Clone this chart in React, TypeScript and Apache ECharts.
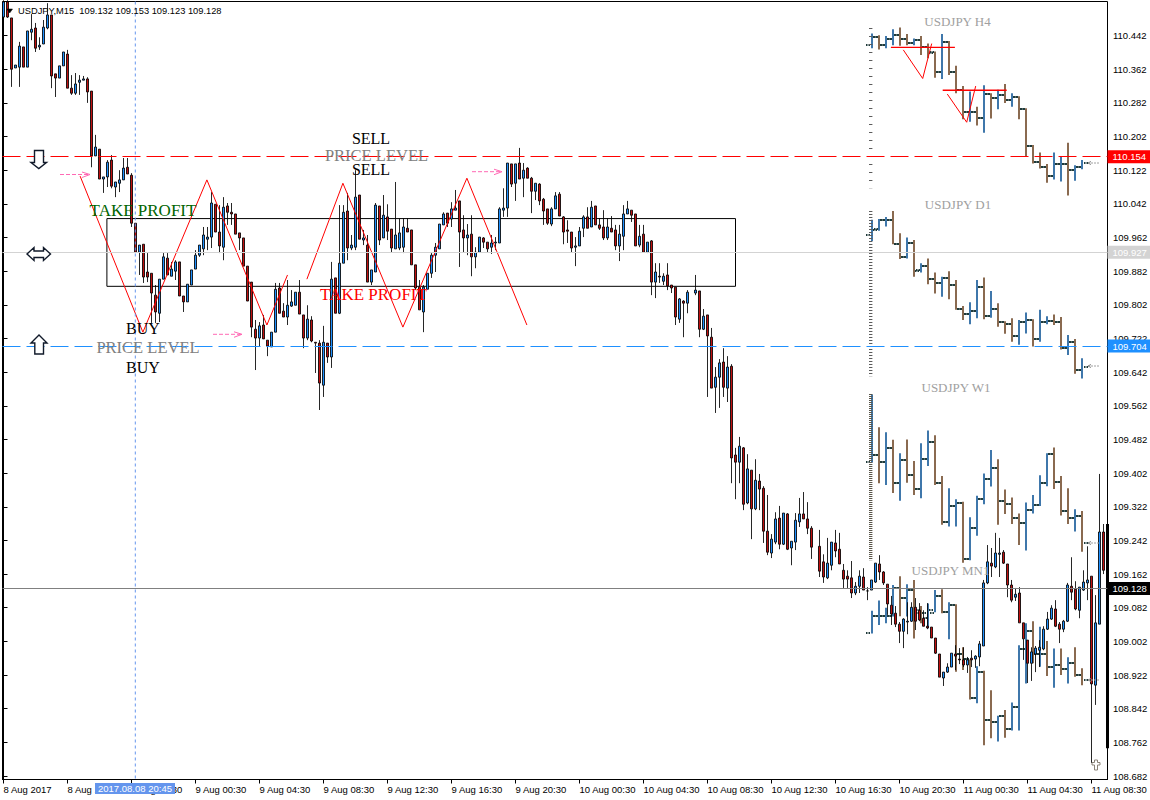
import React, { useEffect, useRef } from "react";
import * as echarts from "echarts";

// Rows are [open, high, low, close]; null marks a slot with no visible bar.
type Row = [number, number, number, number] | null;

const barsA: Row[] = [
[110.486,110.526,110.484,110.522],[110.522,110.526,110.484,110.486],[110.484,110.484,110.320,110.362],[110.365,110.372,110.365,110.372],
[110.367,110.427,110.320,110.417],[110.415,110.415,110.367,110.367],[110.367,110.453,110.367,110.453],[110.450,110.493,110.431,110.457],
[110.460,110.472,110.403,110.412],[110.415,110.438,110.408,110.419],[110.422,110.479,110.422,110.462],[110.460,110.519,110.457,110.491],
[110.491,110.491,110.317,110.346],[110.351,110.351,110.296,110.341],[110.341,110.370,110.341,110.370],[110.370,110.403,110.370,110.403],
[110.398,110.408,110.317,110.317],[110.317,110.348,110.301,110.305],[110.305,110.353,110.301,110.327],[110.331,110.348,110.301,110.336],
[110.336,110.346,110.336,110.339],[110.339,110.343,110.282,110.308],[110.310,110.310,110.129,110.156],[110.156,110.206,110.156,110.177],
[110.172,110.172,110.101,110.101],[110.101,110.106,110.068,110.106],[110.106,110.146,110.082,110.141],[110.146,110.158,110.079,110.084],
[110.082,110.094,110.058,110.094],[110.091,110.122,110.070,110.099],[110.099,110.151,110.099,110.127],[110.129,110.151,110.113,110.113],
[110.110,110.115,109.987,109.996],[109.996,109.996,109.927,109.927],[109.927,109.944,109.873,109.944],[109.946,109.946,109.854,109.868],
[109.880,109.925,109.856,109.868],[109.877,109.877,109.759,109.830],[109.825,109.849,109.759,109.785],[109.782,109.863,109.761,109.863],
[109.863,109.925,109.863,109.916],[109.913,109.925,109.873,109.873],[109.870,109.904,109.870,109.887],[109.882,109.908,109.861,109.904],
[109.904,109.904,109.823,109.823],[109.823,109.823,109.785,109.809],[109.809,109.851,109.809,109.851],[109.849,109.885,109.849,109.885],
];
const barsB: Row[] = [
[109.887,109.932,109.887,109.920],[109.920,109.944,109.916,109.944],[109.935,109.987,109.920,109.968],[109.958,109.987,109.932,109.963],
[109.963,110.070,109.937,110.044],[110.041,110.041,109.975,109.975],[109.975,110.039,109.925,109.942],[109.939,110.058,109.908,110.034],
[110.037,110.044,109.992,110.022],[110.022,110.044,109.992,110.018],[110.018,110.018,109.970,109.970],[109.973,109.973,109.932,109.961],
[109.961,109.961,109.894,109.894],[109.894,109.894,109.811,109.811],[109.856,109.856,109.725,109.749],[109.744,109.766,109.647,109.723],
[109.723,109.761,109.702,109.752],[109.754,109.778,109.721,109.721],[109.718,109.718,109.680,109.704],[109.702,109.737,109.702,109.737],
[109.737,109.854,109.737,109.839],[109.842,109.854,109.782,109.782],[109.787,109.806,109.773,109.773],[109.773,109.861,109.754,109.801],
[109.799,109.837,109.797,109.809],[109.801,109.832,109.801,109.832],[109.832,109.861,109.780,109.780],[109.778,109.778,109.699,109.723],
[109.723,109.801,109.718,109.768],[109.766,109.775,109.713,109.716],[109.713,109.713,109.640,109.711],[109.711,109.718,109.552,109.616],
[109.611,109.752,109.583,109.713],[109.711,109.711,109.664,109.678],[109.678,109.904,109.652,109.863],[109.866,109.866,109.782,109.782],
[109.782,110.039,109.780,109.901],[109.901,110.039,109.901,110.022],[110.025,110.068,109.908,109.937],[109.937,109.968,109.932,109.944],
[109.939,110.122,109.932,110.058],[110.063,110.063,109.958,109.958],[109.956,109.980,109.944,109.961],[109.944,109.968,109.856,109.856],
[109.856,109.885,109.849,109.885],[109.880,110.044,109.880,110.039],[110.037,110.037,109.944,109.956],[109.961,110.063,109.961,110.015],
];
const barsC: Row[] = [
[110.011,110.041,109.956,109.977],[109.982,109.982,109.927,109.937],[109.935,110.094,109.935,109.968],[109.937,110.008,109.932,109.973],
[109.939,110.008,109.925,109.987],[109.984,110.008,109.975,109.975],[109.980,109.980,109.897,109.897],[109.897,109.897,109.837,109.842],
[109.844,109.861,109.790,109.790],[109.785,109.849,109.737,109.844],[109.839,109.877,109.839,109.877],[109.877,109.925,109.866,109.920],
[109.920,109.949,109.880,109.939],[109.935,109.994,109.935,109.994],[109.992,110.022,109.992,110.018],[110.020,110.020,109.987,109.996],
[110.006,110.046,109.987,110.030],[110.027,110.075,110.027,110.032],[110.049,110.049,109.892,109.975],[109.980,110.015,109.927,109.961],
[109.961,109.994,109.920,109.968],[109.970,110.015,109.870,109.916],[109.916,109.939,109.889,109.927],[109.927,109.963,109.927,109.963],
[109.961,109.963,109.937,109.951],[109.951,109.951,109.927,109.935],[109.939,109.968,109.923,109.949],[109.949,109.963,109.932,109.951],
[109.949,110.034,109.949,110.030],[110.027,110.079,110.011,110.032],[110.032,110.139,110.011,110.139],[110.137,110.137,110.082,110.089],
[110.091,110.137,110.049,110.137],[110.139,110.175,110.101,110.101],[110.103,110.139,110.058,110.122],[110.127,110.129,110.103,110.103],
[110.103,110.106,110.020,110.072],[110.072,110.091,110.051,110.091],[110.089,110.091,110.039,110.049],[110.053,110.056,109.992,110.025],
[110.030,110.030,109.992,109.996],[109.994,110.034,109.989,110.030],[110.030,110.070,110.030,110.061],[110.065,110.070,110.013,110.013],
[110.011,110.013,109.946,109.975],[109.980,110.003,109.949,109.977],[109.975,109.975,109.927,109.937],[109.939,109.963,109.894,109.942],
];
const barsD: Row[] = [
[109.942,109.987,109.942,109.977],[109.984,110.015,109.963,110.011],[110.011,110.034,109.984,109.984],[109.987,110.049,109.987,110.034],
[110.037,110.037,109.992,109.992],[109.992,110.008,109.980,109.984],[109.987,110.027,109.956,109.961],[109.961,110.008,109.956,109.987],
[109.984,110.013,109.975,109.975],[109.980,109.992,109.932,109.942],[109.942,109.992,109.906,109.970],[109.965,110.039,109.932,110.018],
[110.018,110.049,110.018,110.030],[110.027,110.027,109.999,110.015],[110.018,110.018,109.942,109.942],[109.944,109.992,109.939,109.965],
[109.970,109.992,109.927,109.927],[109.927,109.951,109.925,109.951],[109.954,109.956,109.825,109.856],[109.856,109.901,109.818,109.880],
[109.870,109.901,109.854,109.868],[109.858,109.877,109.849,109.870],[109.873,109.901,109.837,109.847],[109.849,109.849,109.830,109.842],
[109.844,109.844,109.754,109.773],[109.768,109.818,109.759,109.816],[109.811,109.813,109.725,109.806],[109.806,109.837,109.782,109.832],
null,[109.830,109.873,109.825,109.837],[109.835,109.835,109.725,109.744],[109.744,109.792,109.742,109.775],
[109.778,109.778,109.583,109.728],[109.725,109.747,109.604,109.604],[109.606,109.654,109.545,109.630],[109.630,109.673,109.557,109.664],
[109.666,109.699,109.583,109.606],[109.604,109.680,109.571,109.654],[109.656,109.661,109.378,109.438],[109.445,109.462,109.340,109.428],
[109.428,109.488,109.378,109.466],[109.462,109.464,109.314,109.328],[109.331,109.447,109.328,109.412],[109.409,109.409,109.245,109.317],
[109.317,109.435,109.314,109.385],[109.383,109.400,109.314,109.364],[109.366,109.371,109.236,109.264],[109.264,109.350,109.207,109.214],
];
const barsE: Row[] = [
[109.212,109.257,109.200,109.245],[109.238,109.309,109.233,109.293],[109.295,109.324,109.221,109.233],[109.233,109.307,109.231,109.307],
[109.305,109.307,109.219,109.221],[109.224,109.240,109.183,109.240],[109.238,109.307,109.219,109.290],[109.286,109.343,109.274,109.305],
[109.305,109.357,109.293,109.293],[109.293,109.333,109.257,109.271],[109.271,109.276,109.198,109.226],null,
[109.228,109.267,109.155,109.169],[109.191,109.209,109.141,109.155],[109.153,109.248,109.150,109.188],[109.183,109.238,109.171,109.238],
[109.236,109.267,109.202,109.217],[109.221,109.260,109.186,109.186],[109.171,109.186,109.129,109.150],[109.157,109.171,109.129,109.150],
[109.153,109.193,109.105,109.117],[109.117,109.143,109.112,109.133],[109.133,109.171,109.117,109.157],[109.155,109.176,109.124,109.124],
[109.122,109.131,109.100,109.122],[109.124,109.148,109.124,109.148],[109.143,109.188,109.141,109.188],[109.186,109.207,109.148,109.167],
[109.167,109.169,109.136,109.141],[109.138,109.138,109.065,109.091],[109.088,109.110,109.041,109.067],[109.069,109.086,109.036,109.043],
[109.043,109.048,108.998,109.026],[109.026,109.057,108.986,109.055],[109.048,109.095,109.019,109.050],[109.050,109.095,109.048,109.083],
[109.083,109.105,109.029,109.050],[109.076,109.093,109.050,109.053],[109.057,109.076,109.038,109.038],[109.038,109.093,109.031,109.034],
[109.036,109.036,109.010,109.010],[109.010,109.010,108.972,108.974],[108.972,108.972,108.917,108.917],[108.915,108.929,108.896,108.929],
[108.929,108.950,108.927,108.941],[108.941,108.974,108.941,108.974],[108.972,108.993,108.934,108.967],[108.960,108.986,108.948,108.958],
];
const barsF: Row[] = [
[108.958,108.988,108.941,108.946],[108.946,108.965,108.927,108.958],[108.962,108.981,108.941,108.958],[108.960,108.969,108.939,108.967],
[108.965,109.003,108.943,108.996],[108.991,109.148,108.991,109.141],[109.141,109.231,109.138,109.191],[109.188,109.224,109.155,109.181],
[109.179,109.260,109.176,109.212],[109.209,109.248,109.155,109.212],[109.214,109.219,109.186,109.188],[109.186,109.186,109.107,109.136],
[109.136,109.148,109.095,109.100],[109.107,109.129,109.098,109.114],[109.117,109.131,109.046,109.046],[109.046,109.046,108.958,109.008],
[109.005,109.005,108.903,108.950],[108.950,108.988,108.908,108.977],[108.972,108.991,108.929,108.986],[108.981,109.005,108.941,108.988],
[108.984,109.038,108.981,109.031],[109.031,109.072,109.029,109.055],[109.055,109.088,109.053,109.081],[109.079,109.100,109.036,109.038],
[109.043,109.048,108.998,109.031],[109.031,109.053,109.024,109.050],[109.050,109.141,109.048,109.136],[109.133,109.202,109.100,109.119],
[109.126,109.145,109.076,109.079],[109.076,109.131,109.057,109.131],[109.124,109.171,109.122,109.143],[109.141,109.228,109.100,109.148],
[109.157,109.157,108.713,108.901],[108.898,109.112,108.851,109.046],[109.043,109.400,109.043,109.262],[109.262,109.281,109.162,109.171],
];

const h4Bars: Row[] = [
[110.419,110.447,110.412,110.439],[110.439,110.443,110.409,110.419],[110.419,110.441,110.412,110.434],[110.434,110.457,110.419,110.443],
[110.443,110.461,110.418,110.433],[110.433,110.446,110.419,110.425],[110.425,110.435,110.419,110.431],[110.431,110.441,110.396,110.414],
[110.414,110.423,110.388,110.404],[110.401,110.404,110.342,110.355],[110.355,110.446,110.339,110.426],[110.426,110.429,110.348,110.355],
[110.356,110.370,110.305,110.313],[110.313,110.322,110.243,110.261],[110.261,110.309,110.237,110.261],[110.261,110.273,110.228,110.245],
[110.245,110.324,110.211,110.302],[110.302,110.305,110.245,110.294],[110.294,110.313,110.267,110.301],[110.301,110.327,110.282,110.289],
[110.289,110.305,110.273,110.295],[110.295,110.298,110.243,110.267],[110.267,110.269,110.156,110.180],[110.180,110.182,110.138,110.142],
[110.142,110.164,110.126,110.130],[110.130,110.137,110.092,110.109],[110.109,110.164,110.100,110.137],[110.137,110.154,110.095,110.137],
[110.137,110.187,110.062,110.122],[110.122,110.134,110.097,110.130],[110.130,110.146,110.124,110.140],
];
const d1Bars: Row[] = [
[109.968,110.004,109.954,109.982],[109.981,110.006,109.978,110.004],[110.003,110.011,109.988,110.003],[110.003,110.025,109.946,109.947],
[109.947,109.972,109.911,109.915],[109.915,109.962,109.912,109.950],[109.950,109.956,109.869,109.885],[109.883,109.901,109.879,109.895],
[109.895,109.912,109.851,109.863],[109.863,109.879,109.829,109.855],[109.855,109.869,109.821,109.865],[109.865,109.882,109.815,109.849],
[109.849,109.861,109.790,109.792],[109.792,109.799,109.766,109.780],[109.780,109.808,109.756,109.788],[109.788,109.861,109.770,109.845],
[109.845,109.867,109.768,109.776],[109.776,109.835,109.771,109.792],[109.792,109.806,109.750,109.760],[109.760,109.763,109.733,109.756],
[109.756,109.770,109.714,109.728],[109.728,109.766,109.707,109.762],[109.762,109.784,109.734,109.765],[109.765,109.768,109.703,109.721],
[109.721,109.790,109.714,109.760],[109.760,109.775,109.756,109.763],[109.763,109.779,109.754,109.760],[109.760,109.773,109.696,109.700],
[109.700,109.730,109.683,109.714],[109.714,109.721,109.638,109.646],[109.646,109.675,109.627,109.655],
];
const w1Bars: Row[] = [
[109.429,109.589,109.427,109.445],[109.445,109.511,109.378,109.429],[109.429,109.499,109.374,109.462],[109.462,109.481,109.355,109.379],
[109.379,109.449,109.336,109.433],[109.433,109.482,109.379,109.397],[109.397,109.431,109.350,109.365],[109.365,109.473,109.342,109.435],
[109.435,109.503,109.419,109.475],[109.475,109.492,109.374,109.378],[109.378,109.395,109.279,109.286],[109.286,109.366,109.275,109.324],
[109.324,109.340,109.275,109.332],[109.332,109.334,109.189,109.199],[109.199,109.297,109.195,109.272],[109.272,109.348,109.253,109.341],
[109.341,109.401,109.328,109.389],[109.389,109.457,109.370,109.415],[109.415,109.435,109.279,109.336],[109.336,109.363,109.305,109.328],
[109.328,109.344,109.281,109.296],[109.296,109.306,109.231,109.284],[109.284,109.332,109.218,109.314],[109.314,109.350,109.306,109.326],
[109.326,109.397,109.324,109.379],[109.379,109.449,109.371,109.447],[109.447,109.463,109.364,109.382],[109.382,109.395,109.301,109.313],
[109.313,109.366,109.281,109.296],[109.296,109.316,109.263,109.301],[109.301,109.312,109.215,109.235],
];
const mnBars: Row[] = [
[109.023,109.075,109.021,109.062],[109.062,109.099,109.041,109.062],[109.062,109.082,109.045,109.062],[109.062,109.136,109.061,109.129],
[109.129,109.157,109.062,109.106],[109.106,109.138,109.061,109.124],[109.124,109.148,109.009,109.077],[109.070,109.086,109.045,109.057],
[109.070,109.092,109.033,109.070],[109.077,109.124,109.071,109.111],[109.111,109.126,109.069,109.073],[109.073,109.095,109.007,109.088],
[109.088,109.090,108.930,108.971],[108.971,108.988,108.934,108.959],[108.959,108.959,108.864,108.867],[108.867,108.943,108.855,108.930],
[108.930,108.932,108.755,108.815],[108.815,108.886,108.772,108.811],[108.811,108.825,108.764,108.825],[108.825,108.839,108.773,108.793],
[108.793,108.857,108.790,108.847],[108.847,108.993,108.790,108.983],[108.983,109.045,108.902,109.027],[109.027,109.050,108.950,108.971],
[108.971,109.037,108.942,108.971],[108.971,109.003,108.920,108.942],[108.942,108.985,108.892,108.946],[108.946,108.985,108.922,108.936],
[108.936,108.964,108.902,108.951],[108.951,108.988,108.918,108.922],[108.922,108.938,108.898,108.910],
];

const priceTicks = [110.442,110.362,110.282,110.202,110.122,110.042,109.962,109.882,109.802,109.722,109.642,109.562,109.482,109.402,109.322,109.242,109.162,109.082,109.002,108.922,108.842,108.762,108.682];
const timeLabels = ["8 Aug 2017","8 Aug 16:30","8 Aug 20:30","9 Aug 00:30","9 Aug 04:30","9 Aug 08:30","9 Aug 12:30","9 Aug 16:30","9 Aug 20:30","10 Aug 00:30","10 Aug 04:30","10 Aug 08:30","10 Aug 12:30","10 Aug 16:30","10 Aug 20:30","11 Aug 00:30","11 Aug 04:30","11 Aug 08:30"];
const barsPerLabel = 16;

const zigzagA = [[19.15,110.108],[34.85,109.737],[50.85,110.099],[65.85,109.754],[71,109.873]];
const zigzagB = [[75.85,109.863],[84.85,110.091],[99.85,109.749],[115.85,110.103],[130.85,109.754]];
const h4ZigzagA = [[224.95,110.408],[229.8,110.340],[232.05,110.423]];
const h4ZigzagB = [[235.95,110.303],[240.8,110.236],[243.05,110.322]];
const h4LevelA = [[221.85,110.414],[237.85,110.414]];
const h4LevelB = [[234.8,110.312],[250.8,110.312]];
const zoneBox = [[25.85,110.007],[183,110.007],[183,109.846],[25.85,109.846],[25.85,110.007]];
const crosshairBar = 32.95;
const liveBar = [[276,109.281],[276,108.748]];

const miniStart = 217.125;
const miniStep = 1.75;
const ladderBar = 216.8;
const ladderH4 = [110.460,110.079];
const ladderD1 = [110.025,109.632];
const ladderW1 = [109.590,109.195];

const levelSell = 110.154, levelMid = 109.927, levelBuy = 109.704, levelLast = 109.128;

const mono = '"Liberation Sans", sans-serif';
const serif = '"Liberation Serif", serif';
const axisSize = 9.5;
const axisText = { color: "#000", fontFamily: mono, fontSize: axisSize };

const mainBars = [barsA, barsB, barsC, barsD, barsE, barsF].flat();
const candleData = mainBars
  .map((r, i) => (r ? [i, r[0], r[3], r[2], r[1]] : null))
  .filter(Boolean);

const miniData = (rows: Row[]) =>
  rows.map((r, j) => [miniStart + j * miniStep, r![0], r![1], r![2], r![3]]);

function renderMini(_: any, api: any) {
  const x = api.value(0), o = api.value(1), h = api.value(2), l = api.value(3), c = api.value(4);
  const top = api.coord([x, h]), bot = api.coord([x, l]);
  const yo = Math.round(api.coord([x, o])[1]), yc = Math.round(api.coord([x, c])[1]);
  const stem = c < o ? "#8a6a50" : "#3f77ab";
  const X = Math.round(top[0]);
  const tick = "#1f3a3a";
  return {
    type: "group",
    children: [
      { type: "line", shape: { x1: X, y1: top[1], x2: X, y2: bot[1] }, style: { stroke: stem, lineWidth: 2 } },
      { type: "line", shape: { x1: X - 6, y1: yo, x2: X - 2, y2: yo }, style: { stroke: tick, lineWidth: 2, lineDash: [1.5, 1] } },
      { type: "line", shape: { x1: X + 2, y1: yc, x2: X + 6, y2: yc }, style: { stroke: tick, lineWidth: 2, lineDash: [1.5, 1] } },
    ],
  };
}

const miniSeries = (rows: Row[]) => ({
  type: "custom",
  renderItem: renderMini,
  data: miniData(rows),
  encode: { x: 0, y: [1, 2, 3, 4] },
  clip: false,
  silent: true,
  z: 1,
});

const pathLine = (data: number[][], color: string, width: number, z = 4, dash?: number[] | string) => ({
  type: "line",
  data,
  showSymbol: false,
  symbol: "none",
  silent: true,
  clip: false,
  z,
  lineStyle: { color, width, type: dash || "solid", cap: "butt" },
});

const levelLine = (v: number, color: string, dashed: boolean, bg: string, fg: string) => ({
  yAxis: v,
  lineStyle: { color, width: 1, type: dashed ? [18, 6] : "solid" },
  label: {
    show: true,
    position: "end",
    distance: 0,
    formatter: () => v.toFixed(3),
    backgroundColor: bg,
    color: fg,
    fontFamily: mono,
    fontSize: axisSize,
    padding: [2, 5, 1, 5],
  },
});

const text = (x: number, y: number, s: string, fill: string, size = 16) => ({
  type: "text",
  x,
  y,
  z: 20,
  silent: true,
  style: {
    text: s,
    font: `${size}px ${serif}`,
    fill,
    textAlign: "center",
    textVerticalAlign: "middle",
    verticalAlign: "middle",
  },
});

const poly = (pts: number[][], stroke = "#111a2a", fill = "#fff", lineWidth = 1.4) => ({
  type: "polygon",
  z: 20,
  silent: true,
  shape: { points: pts },
  style: { fill, stroke, lineWidth },
});

const pinkArrow = (x1: number, x2: number, y: number) => [
  { type: "line", z: 20, silent: true, shape: { x1, y1: y, x2: x2 - 1, y2: y }, style: { stroke: "#ff69b4", lineWidth: 1, lineDash: [4, 2] } },
  { type: "polyline", z: 20, silent: true, shape: { points: [[x2 - 8, y - 2.5], [x2, y], [x2 - 8, y + 3]] }, style: { stroke: "#ff69b4", fill: "none", lineWidth: 1 } },
];

const backArrow = (y: number, x1 = 1088, x2 = 1100) => [
  { type: "line", z: 20, silent: true, shape: { x1: x1 + 3, y1: y, x2, y2: y }, style: { stroke: "#a0a0a0", lineWidth: 1, lineDash: [2, 1] } },
  { type: "polyline", z: 20, silent: true, shape: { points: [[x1 + 3, y - 1.5], [x1, y], [x1 + 3, y + 1.5]] }, style: { stroke: "#808080", fill: "none", lineWidth: 1 } },
];

const overlays: any[] = [
  text(371, 138.5, "SELL", "#000"),
  text(371, 169.5, "SELL", "#000"),
  text(376.5, 155, "PRICE LEVEL", "#808080", 16.5),
  text(143, 328, "BUY", "#000"),
  text(143, 367, "BUY", "#000"),
  text(148, 347, "PRICE LEVEL", "#808080", 16.5),
  text(143, 210, "TAKE PROFIT", "#006400", 17),
  text(373.5, 294, "TAKE PROFIT", "#ff0000", 17),
  text(957.5, 21, "USDJPY H4", "#a0a0a0", 13),
  text(958, 204, "USDJPY D1", "#a0a0a0", 13),
  text(956, 387, "USDJPY W1", "#a0a0a0", 13),
  text(950.5, 570, "USDJPY MN1", "#a0a0a0", 13),
  poly([[34.5, 150.5], [43.5, 150.5], [43.5, 162.5], [46.5, 162.5], [38.8, 168.5], [31, 162.5], [34.5, 162.5]]),
  poly([[27, 254], [34, 247.5], [34, 251], [43.5, 251], [43.5, 247.5], [50.5, 254], [43.5, 260.5], [43.5, 257.5], [34, 257.5], [34, 260.5]]),
  poly([[39, 335], [47, 343], [43.5, 343], [43.5, 354], [34.8, 354], [34.8, 343], [31, 343]]),
  poly([[1094.5, 760], [1097.5, 760], [1097.5, 762.5], [1100, 762.5], [1100, 765], [1097.5, 765], [1097.5, 770], [1094.5, 770], [1094.5, 765], [1092, 765], [1092, 762.5], [1094.5, 762.5]], "#8a8378", "#fff", 1),
  ...pinkArrow(60, 90, 174.5),
  ...pinkArrow(213, 242, 334.3),
  ...pinkArrow(472, 502, 171.7),
  ...backArrow(163),
  ...backArrow(366),
  ...backArrow(543),
  ...backArrow(680),
  poly([[7, 9], [12.5, 9], [9.7, 13]], "#000", "#000", 0.5),
  {
    type: "text", x: 18, y: 10.5, z: 20, silent: true,
    style: { text: "USDJPY,M15  109.132 109.153 109.123 109.128", font: `9.3px ${mono}`, fill: "#000", textAlign: "left", textVerticalAlign: "middle", verticalAlign: "middle" },
  },
  { type: "rect", z: 21, silent: true, shape: { x: 95, y: 783, width: 80, height: 11 }, style: { fill: "#6495ed" } },
  {
    type: "text", x: 135, y: 788.8, z: 22, silent: true,
    style: { text: "2017.08.08 20:45", font: `${axisSize}px ${mono}`, fill: "#fff", textAlign: "center", textVerticalAlign: "middle", verticalAlign: "middle" },
  },
];

export default function App() {
  const ref = useRef<HTMLDivElement>(null);
  useEffect(() => {
    const chart = echarts.init(ref.current!, undefined, { renderer: "svg" });
    chart.setOption({
      animation: false,
      backgroundColor: "#fff",
      grid: { left: 2.5, top: 1.5, width: 1105, height: 778, outerBoundsMode: "none", show: true, borderColor: "#000", borderWidth: 1, backgroundColor: "transparent" },
      xAxis: {
        type: "value",
        min: -0.25,
        max: 276,
        splitLine: { show: false },
        axisLine: { lineStyle: { color: "#000", width: 1 } },
        axisTick: { length: 4, lineStyle: { color: "#000" }, customValues: timeLabels.map((_, k) => k * barsPerLabel) },
        axisLabel: {
          ...axisText,
          align: "left",
          margin: 5,
          customValues: timeLabels.map((_, k) => k * barsPerLabel),
          formatter: (v: number) => timeLabels[Math.round(v / barsPerLabel)] ?? "",
        },
      },
      yAxis: {
        type: "value",
        position: "right",
        min: 108.6737,
        max: 110.523,
        splitLine: { show: false },
        axisLine: { show: true, lineStyle: { color: "#000", width: 1 } },
        axisTick: { show: true, length: 4, lineStyle: { color: "#000" }, customValues: priceTicks },
        axisLabel: { ...axisText, margin: 5.5, customValues: priceTicks, formatter: (v: number) => v.toFixed(3) },
      },
      graphic: overlays,
      series: [
        miniSeries(h4Bars),
        miniSeries(d1Bars),
        miniSeries(w1Bars),
        miniSeries(mnBars),
        pathLine([[ladderBar, ladderH4[0]], [ladderBar, ladderH4[1]]], "#5c5c5c", 3.4, 1, [1, 7]),
        pathLine([[ladderBar, ladderD1[0]], [ladderBar, ladderD1[1]]], "#5c5c5c", 3.4, 1, [1, 2]),
        pathLine([[ladderBar, ladderW1[0]], [ladderBar, ladderW1[1]]], "#5a564a", 3.4, 1, [1, 1]),
        {
          type: "candlestick",
          data: candleData,
          barWidth: 2,
          silent: true,
          z: 3,
          itemStyle: { color: "#1e90ff", color0: "#c01010", borderColor: "#000", borderColor0: "#000", borderWidth: 0.85 },
        },
        pathLine(liveBar, "#000", 3, 3),
        pathLine(zoneBox, "#000", 1, 2),
        pathLine(zigzagA, "#ff0000", 1),
        pathLine(zigzagB, "#ff0000", 1),
        pathLine(h4ZigzagA, "#ff0000", 1),
        pathLine(h4ZigzagB, "#ff0000", 1),
        pathLine(h4LevelA, "#ff0000", 1.4),
        pathLine(h4LevelB, "#ff0000", 1.4),
        pathLine([[crosshairBar, 110.523], [crosshairBar, 108.6737]], "#6495ed", 1, 5, [3, 3]),
        {
          type: "line",
          data: [],
          silent: true,
          z: 5,
          markLine: {
            silent: true,
            symbol: ["none", "none"],
            precision: 3,
            animation: false,
            data: [
              levelLine(levelSell, "#ff0000", true, "#ff0000", "#fff"),
              levelLine(levelMid, "#d3d3d3", false, "#d3d3d3", "#fff"),
              levelLine(levelBuy, "#1e90ff", true, "#1e90ff", "#fff"),
              levelLine(levelLast, "#808080", false, "#000", "#fff"),
            ],
          },
        },
      ],
    });
    return () => chart.dispose();
  }, []);
  return <div ref={ref} style={{ width: 1150, height: 800, position: "absolute", left: 0, top: 0 }} />;
}
